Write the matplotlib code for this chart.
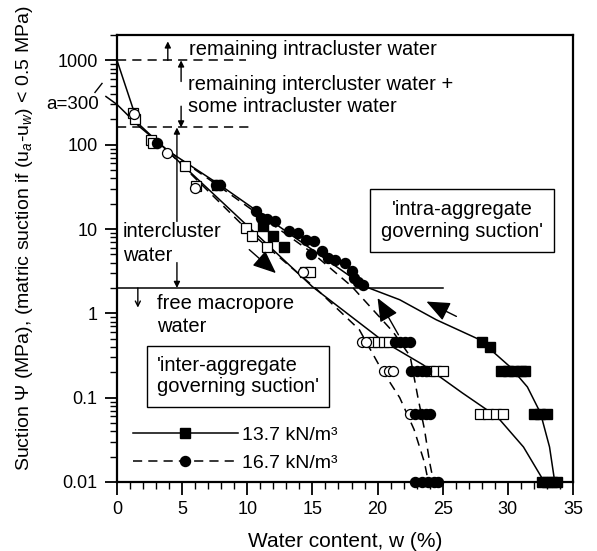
import matplotlib
matplotlib.use('Agg')
import matplotlib.pyplot as plt
from matplotlib.lines import Line2D
from matplotlib.ticker import MultipleLocator, LogLocator, FixedLocator, NullFormatter

plt.rcParams['font.family'] = ['Liberation Sans', 'DejaVu Sans']
plt.rcParams['mathtext.fontset'] = 'custom'
plt.rcParams['mathtext.rm'] = 'Liberation Sans'
plt.rcParams['mathtext.it'] = 'Liberation Sans:italic'

# ---------------- data ----------------
# fitted curves
upper_solid_w = [-0.85, 0, 1.7, 4.0, 7.85, 19.0, 21.7, 24.5, 27.8, 30.2, 31.5, 32.5, 33.2, 33.6]
upper_solid_s = [373, 300, 165, 83, 33.7, 2.09, 1.45, 0.84, 0.49, 0.23, 0.134, 0.066, 0.026, 0.01]
lower_solid_w = [0, 1.6, 4.0, 15.0, 20.5, 23.5, 26.5, 29.2, 31.2, 32.8]
lower_solid_s = [1000, 180, 81, 2.07, 0.46, 0.245, 0.114, 0.059, 0.026, 0.01]
upper_dash_w = [4.0, 7.85, 15.0, 18.0, 21.2, 22.5, 23.1, 23.6, 24.0, 24.3]
upper_dash_s = [83, 32, 5.2, 2.1, 0.6, 0.31, 0.10, 0.042, 0.017, 0.01]
lower_dash_w = [4.0, 10.0, 15.3, 18.6, 20.2, 21.7, 22.8, 23.6, 23.9]
lower_dash_s = [81, 9.8, 1.95, 0.64, 0.23, 0.10, 0.042, 0.017, 0.01]

# measured points
sq_filled_w = [7.7, 11.2, 11.95, 12.85, 28.0, 28.6, 29.5, 30.0, 30.5, 31.0, 31.3,
               32.0, 32.5, 33.0, 32.6, 33.0, 33.4, 33.8]
sq_filled_s = [33, 10.8, 8.2, 6.2, 0.46, 0.40, 0.21, 0.21, 0.21, 0.21, 0.21,
               0.064, 0.064, 0.064, 0.01, 0.01, 0.01, 0.01]
sq_open_w = [1.2, 1.4, 2.6, 2.8, 5.2, 6.1, 9.9, 10.4, 11.55, 14.4, 14.8,
             19.6, 20.0, 20.5, 20.9, 24.0, 24.5, 25.0, 27.9, 28.5, 29.1, 29.6]
sq_open_s = [240, 200, 115, 105, 56, 32, 10.3, 8.2, 6.1, 3.1, 3.1,
             0.46, 0.46, 0.46, 0.46, 0.21, 0.21, 0.21, 0.064, 0.064, 0.064, 0.064]
ci_open_w = [1.3, 3.8, 6.0, 14.3, 18.8, 19.1, 20.5, 20.85, 21.2, 22.5]
ci_open_s = [230, 80, 31, 3.1, 0.46, 0.46, 0.21, 0.21, 0.21, 0.064]
ci_filled_w = [3.1, 7.6, 7.9, 10.7, 11.05, 11.55, 12.1, 13.2, 13.9, 14.5, 15.15, 14.9,
               15.7, 16.2, 16.7, 17.5, 18.0, 18.2, 18.5, 18.9,
               21.3, 21.7, 22.1, 22.5, 22.6, 23.0, 23.4, 23.7,
               22.9, 23.3, 23.7, 24.0, 22.9, 23.4, 23.9, 24.3, 24.6]
ci_filled_s = [105, 33, 33, 16.3, 13.6, 13, 12.4, 9.6, 8.9, 7.5, 7.2, 5.0,
               5.5, 4.55, 4.3, 3.97, 3.14, 2.62, 2.37, 2.15,
               0.46, 0.46, 0.46, 0.46, 0.21, 0.21, 0.21, 0.21,
               0.064, 0.064, 0.064, 0.064, 0.01, 0.01, 0.01, 0.01, 0.01]

legend_labels = ['13.7 kN/m³', '16.7 kN/m³']
x_ticks = [0, 5, 10, 15, 20, 25, 30, 35]
y_ticks = [0.01, 0.1, 1, 10, 100, 1000]
y_ticklabels = ['0.01', '0.1', '1', '10', '100', '1000']

# ---------------- figure ----------------
fig = plt.figure(figsize=(5.97, 5.51), dpi=100)
ax = fig.add_axes([117 / 597, 1 - 482 / 551, (573 - 117) / 597, (482 - 35) / 551])
ax.set_yscale('log')
ax.set_xlim(0, 35)
ax.set_ylim(0.01, 2000)

LW = 1.1
dash = (0, (6, 4))
ax.plot(upper_solid_w, upper_solid_s, 'k-', lw=LW, clip_on=False, zorder=2)
ax.plot(lower_solid_w, lower_solid_s, 'k-', lw=LW, zorder=2)
ax.plot(upper_dash_w, upper_dash_s, color='k', ls=dash, lw=LW, zorder=2)
ax.plot(lower_dash_w, lower_dash_s, color='k', ls=dash, lw=LW, zorder=2)

ms = 7.2
ax.plot(sq_open_w, sq_open_s, 's', ms=ms, mfc='white', mec='k', mew=0.9, ls='none', zorder=3)
ax.plot(ci_open_w, ci_open_s, 'o', ms=ms, mfc='white', mec='k', mew=0.9, ls='none', zorder=3)
ax.plot(ci_filled_w, ci_filled_s, 'o', ms=ms, mfc='k', mec='k', ls='none', zorder=4, clip_on=False)
ax.plot(sq_filled_w, sq_filled_s, 's', ms=ms, mfc='k', mec='k', ls='none', zorder=4, clip_on=False)

# reference lines
ax.plot([0, 25], [2, 2], 'k-', lw=LW)
ax.plot([0, 9.9], [1000, 1000], color='k', ls=dash, lw=LW)
ax.plot([0, 10.2], [160, 160], color='k', ls=dash, lw=LW)

# vertical arrows
small = dict(arrowstyle='-|>', color='k', lw=1.0, mutation_scale=9, shrinkA=0, shrinkB=0)
ax.annotate('', xy=(3.9, 1680), xytext=(3.9, 1000), arrowprops=small)
ax.annotate('', xy=(4.92, 1000), xytext=(4.92, 562), arrowprops=small)
ax.annotate('', xy=(4.92, 160), xytext=(4.92, 286), arrowprops=small)
ax.annotate('', xy=(4.6, 160), xytext=(4.6, 12.3), arrowprops=small)
ax.annotate('', xy=(4.6, 2), xytext=(4.6, 4.0), arrowprops=small)
ax.annotate('', xy=(1.6, 1.17), xytext=(1.6, 2), arrowprops=dict(arrowstyle='->', color='k', lw=1.0,
            mutation_scale=9, shrinkA=0, shrinkB=0))

# diagonal arrows
big = dict(arrowstyle='-|>,head_length=0.9,head_width=0.38', color='k', lw=1.0,
           mutation_scale=16, shrinkA=0, shrinkB=0)
ax.annotate('', xy=(12.2, 3.0), xytext=(10.15, 5.7), arrowprops=big)
ax.annotate('', xy=(20.0, 1.52), xytext=(21.6, 0.557), arrowprops=big)
ax.annotate('', xy=(23.75, 1.38), xytext=(26.05, 0.92), arrowprops=big)

# texts
fs = 14.5
ax.text(5.55, 1352, 'remaining intracluster water', fontsize=fs, va='center', ha='left')
ax.text(5.43, 519, 'remaining intercluster water +', fontsize=fs, va='center', ha='left')
ax.text(5.43, 286, 'some intracluster water', fontsize=fs, va='center', ha='left')
ax.text(0.46, 9.4, 'intercluster', fontsize=fs, va='center', ha='left')
ax.text(0.46, 4.83, 'water', fontsize=fs, va='center', ha='left')
ax.text(3.05, 1.30, 'free macropore', fontsize=fs, va='center', ha='left')
ax.text(3.05, 0.70, 'water', fontsize=fs, va='center', ha='left')
ax.text(-1.38, 300, 'a=300', fontsize=13.5, va='center', ha='right', clip_on=False)
ax.plot([-1.69, -1.15], [417, 533], 'k-', lw=1.0, clip_on=False)

ax.text(26.5, 12.6, "'intra-aggregate\ngoverning suction'", fontsize=fs, ha='center', va='center',
        linespacing=1.15,
        bbox=dict(boxstyle='square,pad=0.55', fc='white', ec='k', lw=1.0))
ax.text(3.05, 0.179, "'inter-aggregate\ngoverning suction'", fontsize=fs, ha='left', va='center',
        linespacing=1.15,
        bbox=dict(boxstyle='square,pad=0.5', fc='white', ec='k', lw=1.0))

# legend
handles = [Line2D([], [], color='k', lw=LW, marker='s', ms=ms, mfc='k'),
           Line2D([], [], color='k', lw=LW, ls=dash, marker='o', ms=ms, mfc='k')]
ax.legend(handles, legend_labels, loc='lower left', bbox_to_anchor=(0.035, 0.022),
          frameon=False, fontsize=14, handlelength=5.4, handletextpad=0.2,
          labelspacing=0.55, borderpad=0, borderaxespad=0, numpoints=1)

# axes styling
ax.set_xticks(x_ticks)
ax.xaxis.set_minor_locator(MultipleLocator(1))
ax.yaxis.set_major_locator(FixedLocator(y_ticks))
ax.set_yticklabels(y_ticklabels)
ax.yaxis.set_minor_locator(LogLocator(base=10, subs=range(2, 10)))
ax.yaxis.set_minor_formatter(NullFormatter())
ax.tick_params(which='major', direction='out', length=9, width=1.3, labelsize=13, pad=5)
ax.tick_params(which='minor', direction='out', length=5, width=1.0)
for sp in ax.spines.values():
    sp.set_linewidth(1.6)

ax.set_xlabel('Water content, w (%)', fontsize=15, labelpad=10)
ax.set_ylabel('Suction Ψ (MPa), (matric suction if (u$_a$-u$_w$) < 0.5 MPa)', fontsize=14, labelpad=6)
ax.yaxis.set_label_coords(-0.18, 0.546)

fig.savefig('out.png', dpi=100)
